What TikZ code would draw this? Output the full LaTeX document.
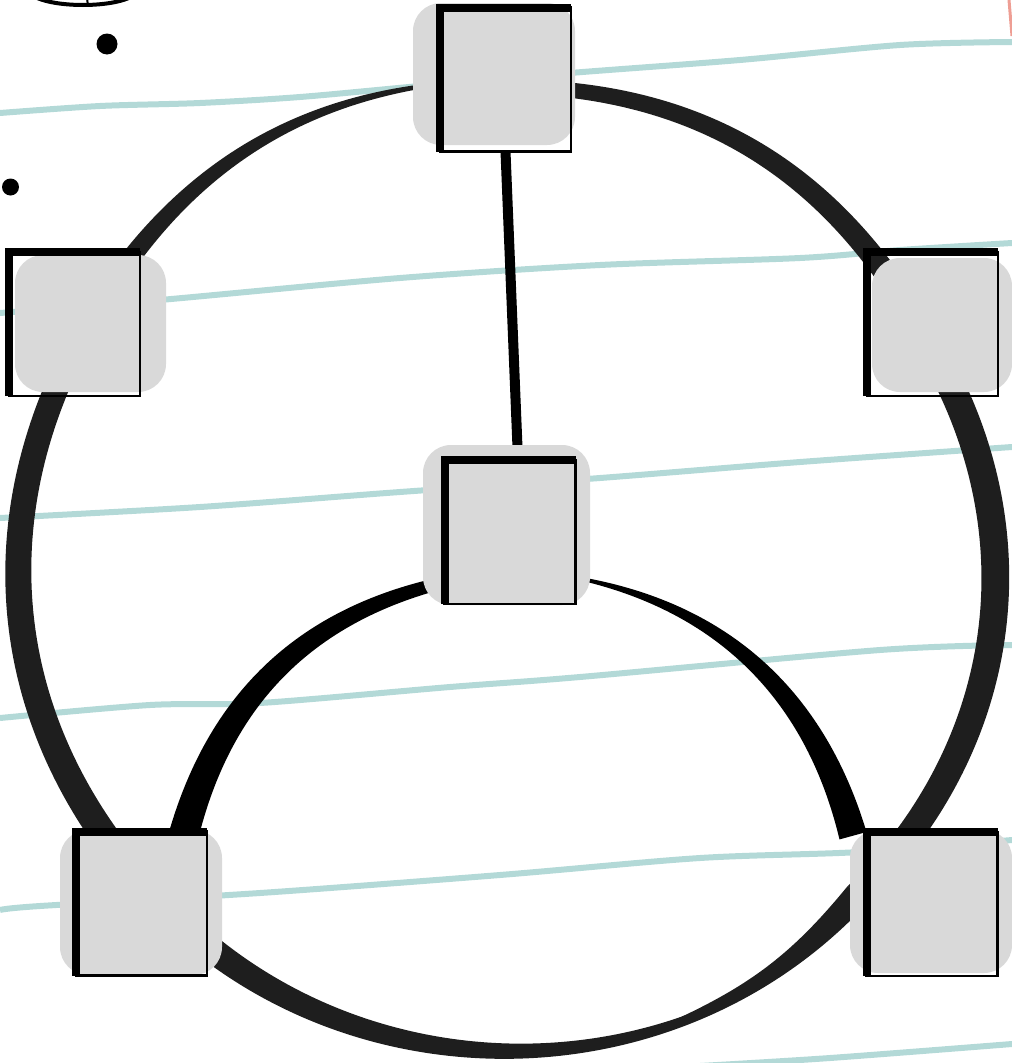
\documentclass[tikz,border=0pt]{standalone}
\usetikzlibrary{calc}
\pgfdeclarelayer{back}
\pgfdeclarelayer{blobs}
\pgfsetlayers{back,blobs,main}
\definecolor{ink}{HTML}{1E1E1E}
\definecolor{ruleteal}{HTML}{B3D9D7}
\definecolor{blobgrey}{HTML}{D9D9D9}
\definecolor{marginred}{HTML}{EE9E94}
% tapered stroke: [colour]{from}{to}{bend}{width at from}{width at to}{inner centre}
\newcommand{\rim}[7][ink]{%
  \fill[#1] (#2) to[bend left=#4] (#3) -- ($(#3)!#6pt!(#7)$)
    to[bend right=#4] ($(#2)!#5pt!(#7)$) -- cycle;}

\begin{document}
\begin{tikzpicture}[x=1pt,y=1pt,
  box/.style={draw,line width=2.5pt,minimum width=131pt,minimum height=144pt,inner sep=0pt,outer sep=0pt},
  boxedge/.style={line width=8pt},
  ruled/.style={draw=ruleteal,line width=6pt},
  blobfill/.style={fill=blobgrey,rounded corners=28pt}]
  \useasboundingbox (0,0) rectangle (1012,-1063);
  \clip (0,0) rectangle (1012,-1063);

  % squares
  \node[box] (top) at (505.5,-79.5) {};
  \node[box] (ul) at (74.5,-324) {};
  \node[box] (ur) at (932.5,-324) {};
  \node[box] (mid) at (510,-532) {};
  \node[box] (bl) at (141.5,-903.5) {};
  \node[box] (br) at (932,-904) {};
  \foreach \n in {top,ul,ur,mid,bl,br}
    \draw[boxedge] (\n.south west) -- (\n.north west) -- (\n.north east);

  \coordinate (C) at (509,-566);
  \coordinate (H) at (513,-929);
  \coordinate (tail) at (675,-1022);

  \begin{pgfonlayer}{back}
    % ruled paper
    \draw[ruled] plot[smooth] coordinates {(0,-113) (100,-106) (200,-103) (300,-97) (420,-86) (570,-73) (740,-60) (900,-45) (1012,-42)};
    \draw[ruled] plot[smooth] coordinates {(0,-313) (160,-300) (400,-278) (600,-265) (800,-258) (900,-250) (1012,-243)};
    \draw[ruled] plot[smooth] coordinates {(0,-518) (200,-507) (400,-492) (600,-478) (800,-462) (1012,-447)};
    \draw[ruled] plot[smooth] coordinates {(0,-718) (150,-705) (260,-703) (450,-687) (580,-677) (880,-650) (1012,-645)};
    \draw[ruled] plot[smooth] coordinates {(0,-910) (40,-906) (260,-893) (500,-875) (700,-858) (860,-852) (1012,-840)};
    \draw[ruled] plot[smooth] coordinates {(700,-1066) (830,-1058) (1012,-1044)};
    \draw[marginred,line width=3pt] (1009,0) -- (1012,-36);

    % outer ring
    \rim{top.center}{ur.center}{30}{14}{24}{C}
    \rim{ur.center}{br.west}{39}{28}{26}{C}
    \rim{br.west}{tail}{13}{26}{2}{C}
    \rim{br.west}{bl.center}{47}{4}{28}{C}
    \rim{bl.center}{ul.center}{36}{28}{24}{C}
    \rim{ul.center}{top.center}{30}{22}{1}{C}

    % inner arcs and spoke
    \rim[black]{bl.69}{mid.214}{31}{30}{12}{H}
    \rim[black]{mid.326}{br.north west}{32}{3}{28}{H}
    \draw[line width=10pt] (top.south) -- ([xshift=8pt]mid.north);
  \end{pgfonlayer}

  \begin{pgfonlayer}{blobs}
    \fill[blobfill] (413,-3) rectangle (575,-145);
    \fill[blobfill] (15,-255) rectangle (166,-392);
    \fill[blobfill] (872,-258) rectangle (1012,-392);
    \fill[blobfill] (423,-445) rectangle (590,-605);
    \fill[blobfill] (60,-830) rectangle (222,-975);
    \fill[blobfill] (850,-830) rectangle (1012,-973);
  \end{pgfonlayer}

  % marks in the corner
  \draw[line width=4pt] (83,10) ellipse [x radius=54, y radius=15];
  \draw[line width=2pt] (87,2) -- (88,-6);
  \fill (107,-44) circle [radius=10.5];
  \fill (10.5,-187) circle [radius=8.5];
\end{tikzpicture}
\end{document}
